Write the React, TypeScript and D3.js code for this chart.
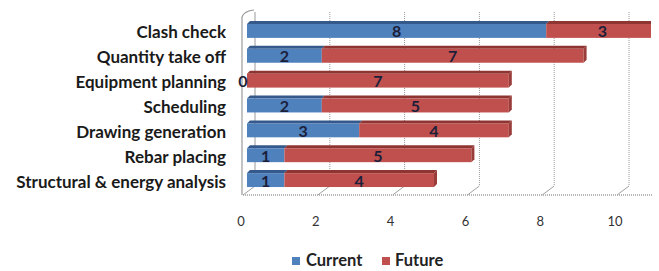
import React from "react";
import * as d3 from "d3";

const categories = [
  "Clash check",
  "Quantity take off",
  "Equipment planning",
  "Scheduling",
  "Drawing generation",
  "Rebar placing",
  "Structural & energy analysis",
];
const currentValues = [8, 2, 0, 2, 3, 1, 1];
const futureValues = [3, 7, 7, 5, 4, 5, 4];
const xTicks = [0, 2, 4, 6, 8, 10];
const seriesNames = ["Current", "Future"];

const W = 659;
const H = 271;
const FRONT_X0 = 243;
const BAR_X0 = 247;
const BACK_X0 = 255;
const FLOOR_Y = 195;
const BACK_BOTTOM = 186;
const BACK_TOP = 12;

const colors = {
  blue: "#4F81BD",
  blueTop: "#34598A",
  blueSide: "#3C6597",
  red: "#C0504D",
  redTop: "#8E3532",
  redSide: "#9A3D3A",
};

export default function App() {
  const x = d3.scaleLinear().domain([0, 10]).range([0, 374]);
  const y = d3
    .scaleBand<string>()
    .domain(categories)
    .range([17, 191])
    .paddingInner(0.32)
    .paddingOuter(0.16);
  const bh = y.bandwidth();
  const font = "Lato, 'Open Sans', sans-serif";
  const dep = 3;

  const segs: any[] = [];
  categories.forEach((c, i) => {
    const cur = currentValues[i];
    const fut = futureValues[i];
    segs.push({ c, start: 0, end: cur, v: cur, kind: "blue", last: fut === 0 });
    segs.push({ c, start: cur, end: cur + fut, v: fut, kind: "red", last: true });
  });

  return (
    <svg width={W} height={H} style={{ position: "absolute", left: 0, top: 0, background: "#fff" }}>
      <defs>
        <clipPath id="plotclip">
          <rect x={0} y={0} width={651} height={H} />
        </clipPath>
      </defs>
      {/* left wall */}
      <line x1={242} y1={17} x2={242} y2={FLOOR_Y} stroke="#9a9a9a" strokeWidth={1.2} />
      <path d={`M242,17 Q244,11 254,10`} fill="none" stroke="#9a9a9a" strokeWidth={1.2} />
      {/* back gridlines */}
      {xTicks.map((t) => (
        <g key={"g" + t}>
          <line
            x1={BACK_X0 + x(t)}
            x2={BACK_X0 + x(t)}
            y1={BACK_TOP}
            y2={BACK_BOTTOM}
            stroke="#9a9a9a"
            strokeWidth={1}
            strokeDasharray={t === 0 ? undefined : "1,1"}
          />
          <line
            x1={FRONT_X0 + x(t)}
            y1={FLOOR_Y}
            x2={BACK_X0 + x(t)}
            y2={BACK_BOTTOM}
            stroke="#a0a0a0"
            strokeWidth={1}
          />
        </g>
      ))}
      {/* floor line */}
      <line x1={FRONT_X0} x2={652} y1={FLOOR_Y} y2={FLOOR_Y} stroke="#a0a0a0" strokeWidth={1.5} strokeDasharray="1,1" />
      {/* bars */}
      <g clipPath="url(#plotclip)">
        {segs.map((s, k) => {
          if (s.end - s.start <= 0) return null;
          const x0 = BAR_X0 + x(s.start);
          const x1 = BAR_X0 + x(s.end);
          const yt = (y(s.c) as number) + dep;
          const yb = (y(s.c) as number) + bh;
          const isBlue = s.kind === "blue";
          return (
            <g key={k}>
              <path
                d={`M${x0},${yt} L${x0 + dep},${yt - dep} L${x1 + dep},${yt - dep} L${x1},${yt} Z`}
                fill={isBlue ? colors.blueTop : colors.redTop}
              />
              <rect x={x0} y={yt} width={x1 - x0} height={yb - yt} fill={isBlue ? colors.blue : colors.red} />
              {s.last && (
                <path
                  d={`M${x1},${yt} L${x1 + dep},${yt - dep} L${x1 + dep},${yb - dep} L${x1},${yb} Z`}
                  fill={isBlue ? colors.blueSide : colors.redSide}
                />
              )}
            </g>
          );
        })}
      </g>
      {/* value labels */}
      {segs.map((s, k) => {
        const cy = (y(s.c) as number) + bh / 2 + 2;
        const cx = s.v === 0 ? BAR_X0 - 4 : BAR_X0 + x((s.start + s.end) / 2);
        return (
          <text
            key={"l" + k}
            x={cx}
            y={cy + 6}
            textAnchor="middle"
            fontFamily={font}
            fontWeight="bold"
            fontSize={16}
            fill="#1c1f3a"
          >
            {s.v}
          </text>
        );
      })}
      {/* category labels */}
      {categories.map((c) => (
        <text
          key={c}
          x={226}
          y={(y(c) as number) + bh / 2 + 9}
          textAnchor="end"
          fontFamily={font}
          fontWeight="bold"
          fontSize={17}
          fill="#1a1a1a"
        >
          {c}
        </text>
      ))}
      {/* x tick labels */}
      {xTicks.map((t) => (
        <text
          key={"t" + t}
          x={241 + x(t)}
          y={226}
          textAnchor="middle"
          fontFamily={font}
          fontSize={13}
          fill="#333"
        >
          {t}
        </text>
      ))}
      {/* legend */}
      <g>
        <rect x={292} y={257} width={8} height={8} fill={colors.blue} />
        <text x={306} y={266} fontFamily={font} fontWeight="bold" fontSize={16.5} fill="#222">
          {seriesNames[0]}
        </text>
        <rect x={382} y={257} width={8} height={8} fill={colors.red} />
        <text x={395} y={266} fontFamily={font} fontWeight="bold" fontSize={16.5} fill="#222">
          {seriesNames[1]}
        </text>
      </g>
    </svg>
  );
}
